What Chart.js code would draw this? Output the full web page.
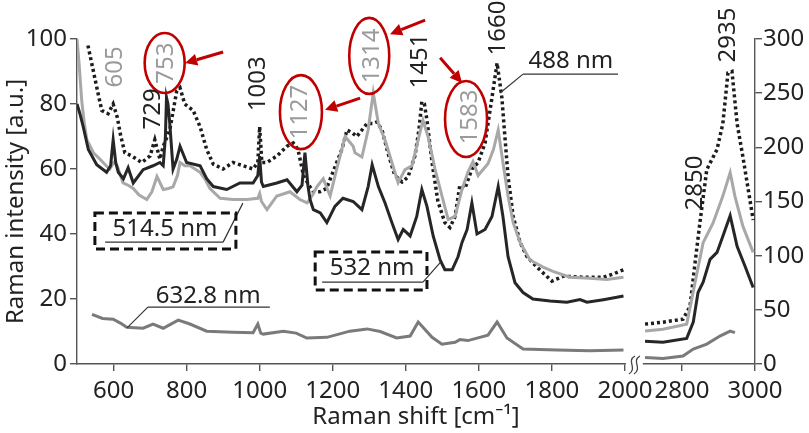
<!DOCTYPE html>
<html>
<head>
<meta charset="utf-8">
<script src="https://cdn.jsdelivr.net/npm/chart.js@4.4.1/dist/chart.umd.min.js"></script>
<style>
  html, body { margin: 0; padding: 0; background: #fff; }
  #wrap { width: 809px; height: 433px; }
</style>
</head>
<body>
<div id="wrap"><canvas id="chart"></canvas></div>
<script>
// fingerprint region (500-2000 cm-1), left axis
const shift488 = [530, 545, 560, 568, 585, 599, 610, 620, 631, 650, 677, 700, 713, 727, 736, 754, 773, 782, 795, 818, 837, 855, 873, 900, 927, 955, 982, 995, 1000, 1006, 1020, 1047, 1075, 1092, 1105, 1120, 1135, 1147, 1165, 1183, 1211, 1225, 1239, 1255, 1266, 1280, 1294, 1310, 1321, 1335, 1351, 1370, 1390, 1406, 1425, 1436, 1444, 1451, 1458, 1472, 1488, 1507, 1521, 1535, 1548, 1562, 1581, 1598, 1617, 1636, 1650, 1663, 1672, 1680, 1694, 1713, 1732, 1759, 1800, 1831, 1886, 1941, 1968, 1996];
const int488   = [98, 90, 82, 78, 77, 80, 76, 70, 65, 64, 62, 64, 69, 63, 67, 72, 84, 85, 80, 78, 73, 66, 61.5, 60, 62, 61, 60, 62, 73, 62, 62, 64, 67, 68, 66, 58, 55, 53, 53, 54, 62, 66, 72, 71, 70, 72, 74, 74, 74.5, 72, 65, 58, 56, 57.5, 64, 72, 80.7, 80, 75, 62, 50, 43.5, 42, 45.4, 55, 54, 60, 62, 68, 82, 92.6, 82, 69, 57.7, 45.4, 37.4, 33, 29.8, 25.5, 27, 26.7, 26.7, 27.7, 29];

const shift514 = [500, 506, 513, 520, 527, 545, 563, 580, 590, 600, 610, 626, 640, 654, 670, 691, 705, 719, 736, 750, 763, 775, 782, 795, 809, 837, 850, 864, 892, 927, 965, 995, 1000, 1005, 1020, 1047, 1083, 1110, 1130, 1145, 1157, 1174, 1193, 1211, 1234, 1256, 1261, 1280, 1297, 1311, 1325, 1343, 1362, 1379, 1398, 1417, 1434, 1447, 1461, 1480, 1499, 1516, 1535, 1554, 1570, 1584, 1598, 1625, 1640, 1653, 1666, 1680, 1694, 1713, 1740, 1776, 1803, 1850, 1904, 1950, 1996];
const int514   = [100, 92, 81, 74, 69, 65, 63, 61, 60, 62, 61, 55.7, 55, 54, 52, 50.6, 53, 57.7, 53.7, 54, 54.5, 58, 62, 61, 61, 59, 57, 54, 51, 50.6, 50.6, 51, 52.5, 50, 47.5, 51.7, 53, 50.6, 49.6, 52, 54.6, 57, 51.7, 60, 70, 67, 65, 63.7, 72, 83.4, 74, 69, 62, 55.8, 59.8, 61, 69, 75, 70, 60, 51.7, 44.5, 45.4, 53.7, 59, 62.3, 58, 61.6, 66, 72, 62, 51.7, 43.5, 37.4, 32, 29.8, 28.5, 26.7, 26.4, 26, 26.7];

const shift532 = [500, 508, 517, 531, 554, 581, 592, 599, 606, 613, 627, 640, 654, 681, 708, 727, 736, 742, 745, 749, 754, 763, 773, 782, 800, 837, 855, 873, 910, 946, 982, 995, 1000, 1005, 1010, 1047, 1075, 1102, 1116, 1124, 1132, 1138, 1147, 1166, 1184, 1206, 1228, 1256, 1280, 1297, 1308, 1325, 1343, 1362, 1379, 1393, 1412, 1430, 1444, 1458, 1475, 1494, 1507, 1527, 1543, 1554, 1568, 1581, 1595, 1617, 1636, 1653, 1666, 1680, 1699, 1721, 1748, 1795, 1841, 1877, 1896, 1941, 1996];
const int532   = [80, 77, 73, 66, 61.3, 59, 61, 69, 62, 59, 57, 60.4, 55.7, 59.8, 61, 62, 61, 70, 82, 80, 74, 60, 63, 67, 62, 61, 57, 54.6, 53.7, 55.7, 55.7, 58, 64, 56, 54.6, 55.7, 56.7, 53, 55, 65, 55, 50.6, 47.5, 46.5, 43.5, 48.5, 51, 50, 47.5, 54.6, 61.3, 54.6, 49.6, 43.5, 38.3, 41.4, 39.4, 45.4, 53.7, 48.5, 39.4, 32, 29, 29, 33, 37.4, 41.4, 49.6, 40, 41.4, 45.4, 54.6, 45.4, 33, 25, 22, 20, 19.4, 19, 19.8, 19, 19.8, 20.9];

const shift633 = [541, 570, 599, 620, 636, 681, 708, 736, 777, 809, 855, 927, 982, 995, 1003, 1010, 1065, 1100, 1129, 1184, 1247, 1294, 1330, 1375, 1412, 1434, 1472, 1499, 1535, 1548, 1570, 1625, 1650, 1677, 1721, 1814, 1904, 1996];
const int633   = [15.3, 14, 13.8, 12.5, 11.3, 11, 12.3, 11, 13.5, 12.3, 10.1, 9.8, 9.6, 12.3, 9.5, 9.2, 10.1, 9.5, 8, 8.2, 10.1, 10.8, 10, 8, 8.6, 12.9, 8.2, 6.1, 6.7, 7.5, 7.2, 8.9, 12.9, 8, 4.6, 4.3, 4.1, 4.3];

// C-H stretching region (2700-3000 cm-1), right axis
const chShift488 = [2699, 2748, 2803, 2822, 2836, 2849, 2868, 2896, 2912, 2926, 2937, 2951, 2967, 2995];
const chInt488   = [36.8, 38.6, 41.4, 53, 93.6, 130, 179.5, 198, 222, 268.7, 270, 222, 191, 133];
const chShift514 = [2699, 2748, 2813, 2836, 2858, 2885, 2912, 2932, 2945, 2967, 2995];
const chInt514   = [30.4, 32, 36.8, 75.5, 112, 130, 155, 176.7, 155, 127, 103];
const chShift532 = [2699, 2748, 2813, 2831, 2844, 2858, 2877, 2896, 2912, 2932, 2951, 2973, 2995];
const chInt532   = [21, 20, 23.6, 38.6, 66, 75.5, 96.6, 103, 118, 137, 108.6, 90, 70.6];
const chShift633 = [2699, 2748, 2803, 2831, 2868, 2904, 2932, 2945];
const chInt633   = [6.1, 5, 7.4, 13.8, 18.4, 25.8, 30.4, 29];

const xTicks = [600, 800, 1000, 1200, 1400, 1600, 1800, 2000, 2800, 3000];
const leftTicks = [0, 20, 40, 60, 80, 100];
const rightTicks = [0, 50, 100, 150, 200, 250, 300];

// the axis is broken between 2000 and ~2700; shift the C-H part left
const BREAK = 644;
const toAxis = s => s > 2000 ? s - BREAK : s;

const FONT = "'Noto Sans', sans-serif";
const GRAY_TXT = '#9a9a9a';
const DARK_TXT = '#222';

// peak labels (x in cm-1, y in left-axis units)
const peakLabels = [
  { text: '605',  x: 604,  y: 91.4,  color: GRAY_TXT },
  { text: '753',  x: 744,  y: 92.6,  color: GRAY_TXT, ring: [740, 92.6, 20, 30], arrow: [900, 96, 796, 92.6] },
  { text: '729',  x: 708,  y: 78.5,  color: DARK_TXT },
  { text: '1003', x: 995,  y: 86.2,  color: DARK_TXT },
  { text: '1127', x: 1110, y: 77.5,  color: GRAY_TXT, ring: [1113, 77.5, 21, 37], arrow: [1275, 81.8, 1179, 78.2] },
  { text: '1314', x: 1308, y: 94.8,  color: GRAY_TXT, ring: [1300, 94.8, 20, 38], arrow: [1453, 105.8, 1357, 101.5] },
  { text: '1451', x: 1439, y: 93.2,  color: DARK_TXT },
  { text: '1583', x: 1576, y: 76,    color: GRAY_TXT, ring: [1565, 75.4, 21, 38], arrow: [1494, 94.2, 1554, 86.5] },
  { text: '1660', x: 1652, y: 103.4, color: DARK_TXT },
  { text: '2935', x: 2926, y: 101.2, color: DARK_TXT },
  { text: '2850', x: 2836, y: 55.7,  color: DARK_TXT }
];

// series name tags with underline and leader line
const seriesTags = [
  { text: '488 nm',   tx: 1852, ty: 93.2, u: [1721, 1981, 89.2], lead: [1658, 83.4], box: null },
  { text: '514.5 nm', tx: 741,  ty: 41.5, u: [577, 900, 37.5],   lead: [954, 49.5],  box: [549, 935, 46.5, 35.4] },
  { text: '532 nm',   tx: 1308, ty: 29.5, u: [1171, 1447, 25.2], lead: [1496, 31.4], box: [1152, 1458, 34.5, 22.8] },
  { text: '632.8 nm', tx: 859,  ty: 20.9, u: [694, 1028, 17.5],  lead: [637, 11.1],  box: null }
];

const pts = (xs, ys) => xs.map((s, i) => ({ x: toAxis(s), y: ys[i] }));

function line(label, data, color, axis, order, dash) {
  return {
    label, data, yAxisID: axis, order,
    borderColor: color, borderWidth: dash ? 3.5 : 3,
    borderDash: dash || [], pointRadius: 0, tension: 0, fill: false
  };
}

const datasets = [
  line('488 nm', pts(shift488, int488), '#1c1c1c', 'y', 3, [3, 3]),
  line('514.5 nm', pts(shift514, int514), '#a8a8a8', 'y', 2),
  line('532 nm', pts(shift532, int532), '#262626', 'y', 1),
  line('632.8 nm', pts(shift633, int633), '#7a7a7a', 'y', 1),
  line('488 nm CH', pts(chShift488, chInt488), '#1c1c1c', 'y2', 3, [3, 3]),
  line('514.5 nm CH', pts(chShift514, chInt514), '#a8a8a8', 'y2', 2),
  line('532 nm CH', pts(chShift532, chInt532), '#262626', 'y2', 1),
  line('632.8 nm CH', pts(chShift633, chInt633), '#7a7a7a', 'y2', 1)
];

const annotate = {
  id: 'annotate',
  afterDraw(chart) {
    const { ctx, scales: { x, y } } = chart;
    const px = s => x.getPixelForValue(toAxis(s));
    const py = v => y.getPixelForValue(v);
    const yb = chart.chartArea.bottom;
    ctx.save();

    // axis break
    const g0 = x.getPixelForValue(2000) + 1, g1 = x.getPixelForValue(2049);
    ctx.fillStyle = '#fff';
    ctx.fillRect(g0, yb - 2, g1 - g0, 4);
    ctx.strokeStyle = '#444';
    ctx.lineWidth = 1.3;
    for (let k = 0; k < 2; k++) {
      const cx = g0 + 6 + k * 5;
      ctx.beginPath();
      ctx.moveTo(cx - 3, yb + 10);
      ctx.bezierCurveTo(cx + 6, yb + 4, cx - 6, yb - 3, cx + 3, yb - 8);
      ctx.stroke();
    }

    // peak labels
    ctx.font = '24px ' + FONT;
    ctx.textAlign = 'center';
    ctx.textBaseline = 'middle';
    peakLabels.forEach(p => {
      ctx.save();
      ctx.translate(px(p.x), py(p.y));
      ctx.rotate(-Math.PI / 2);
      ctx.fillStyle = p.color;
      ctx.fillText(p.text, 0, 0);
      ctx.restore();
      if (p.ring) {
        ctx.strokeStyle = '#c00000';
        ctx.lineWidth = 2.6;
        ctx.beginPath();
        ctx.ellipse(px(p.ring[0]), py(p.ring[1]), p.ring[2], p.ring[3], 0, 0, Math.PI * 2);
        ctx.stroke();
      }
      if (p.arrow) {
        const ax = px(p.arrow[0]), ay = py(p.arrow[1]);
        const bx = px(p.arrow[2]), by = py(p.arrow[3]);
        const ang = Math.atan2(by - ay, bx - ax);
        const hl = 12, hw = 6;
        ctx.strokeStyle = '#c00000';
        ctx.fillStyle = '#c00000';
        ctx.lineWidth = 3;
        ctx.beginPath();
        ctx.moveTo(ax, ay);
        ctx.lineTo(bx - hl * Math.cos(ang), by - hl * Math.sin(ang));
        ctx.stroke();
        ctx.beginPath();
        ctx.moveTo(bx, by);
        ctx.lineTo(bx - hl * Math.cos(ang) + hw * Math.sin(ang), by - hl * Math.sin(ang) - hw * Math.cos(ang));
        ctx.lineTo(bx - hl * Math.cos(ang) - hw * Math.sin(ang), by - hl * Math.sin(ang) + hw * Math.cos(ang));
        ctx.closePath();
        ctx.fill();
      }
    });

    // series tags
    seriesTags.forEach(t => {
      ctx.fillStyle = DARK_TXT;
      ctx.fillText(t.text, px(t.tx), py(t.ty));
      const [u0, u1, uy] = t.u;
      const start = t.lead[0] < u0 ? u0 : u1;
      ctx.strokeStyle = '#333';
      ctx.lineWidth = 1.2;
      ctx.setLineDash([]);
      ctx.beginPath();
      ctx.moveTo(px(u0), py(uy));
      ctx.lineTo(px(u1), py(uy));
      ctx.moveTo(px(start), py(uy));
      ctx.lineTo(px(t.lead[0]), py(t.lead[1]));
      ctx.stroke();
      if (t.box) {
        const [b0, b1, bt, bb] = t.box;
        ctx.strokeStyle = '#111';
        ctx.lineWidth = 3;
        ctx.setLineDash([9, 5]);
        ctx.strokeRect(px(b0), py(bt), px(b1) - px(b0), py(bb) - py(bt));
        ctx.setLineDash([]);
      }
    });
    ctx.restore();
  }
};

const axisStyle = {
  grid: { drawOnChartArea: false, color: '#555', tickLength: 7, lineWidth: 1.4 },
  border: { display: true, color: '#555', width: 1.4 }
};

new Chart(document.getElementById('chart'), {
  type: 'line',
  data: { datasets },
  plugins: [annotate],
  options: {
    responsive: true,
    maintainAspectRatio: false,
    animation: false,
    layout: { padding: { top: 39, left: 0, right: 0, bottom: 0 } },
    plugins: { legend: { display: false }, tooltip: { enabled: false } },
    scales: {
      x: {
        type: 'linear',
        min: 500,
        max: toAxis(3000),
        ...axisStyle,
        afterBuildTicks: axis => { axis.ticks = xTicks.map(t => ({ value: toAxis(t) })); },
        afterFit: axis => { axis.height = 69; },
        ticks: {
          autoSkip: false, maxRotation: 0, padding: 6,
          color: DARK_TXT, font: { family: FONT, size: 24 },
          callback: (v, i) => String(xTicks[i])
        },
        title: {
          display: true, text: 'Raman shift [cm⁻¹]', color: DARK_TXT,
          font: { family: FONT, size: 24 }, padding: { top: 0, bottom: 1 }
        }
      },
      y: {
        type: 'linear', position: 'left', min: 0, max: 100,
        ...axisStyle,
        afterBuildTicks: axis => { axis.ticks = leftTicks.map(v => ({ value: v })); },
        afterFit: axis => { axis.width = 77; },
        ticks: { padding: 3, color: DARK_TXT, font: { family: FONT, size: 24 } },
        title: {
          display: true, text: 'Raman intensity [a.u.]', color: DARK_TXT,
          font: { family: FONT, size: 24 }, padding: { top: 2, bottom: 0 }
        }
      },
      y2: {
        type: 'linear', position: 'right', min: 0, max: 300,
        ...axisStyle,
        afterBuildTicks: axis => { axis.ticks = rightTicks.map(v => ({ value: v })); },
        afterFit: axis => { axis.width = 54; },
        ticks: { padding: 1, color: DARK_TXT, font: { family: FONT, size: 24 } }
      }
    }
  }
});
</script>
</body>
</html>
